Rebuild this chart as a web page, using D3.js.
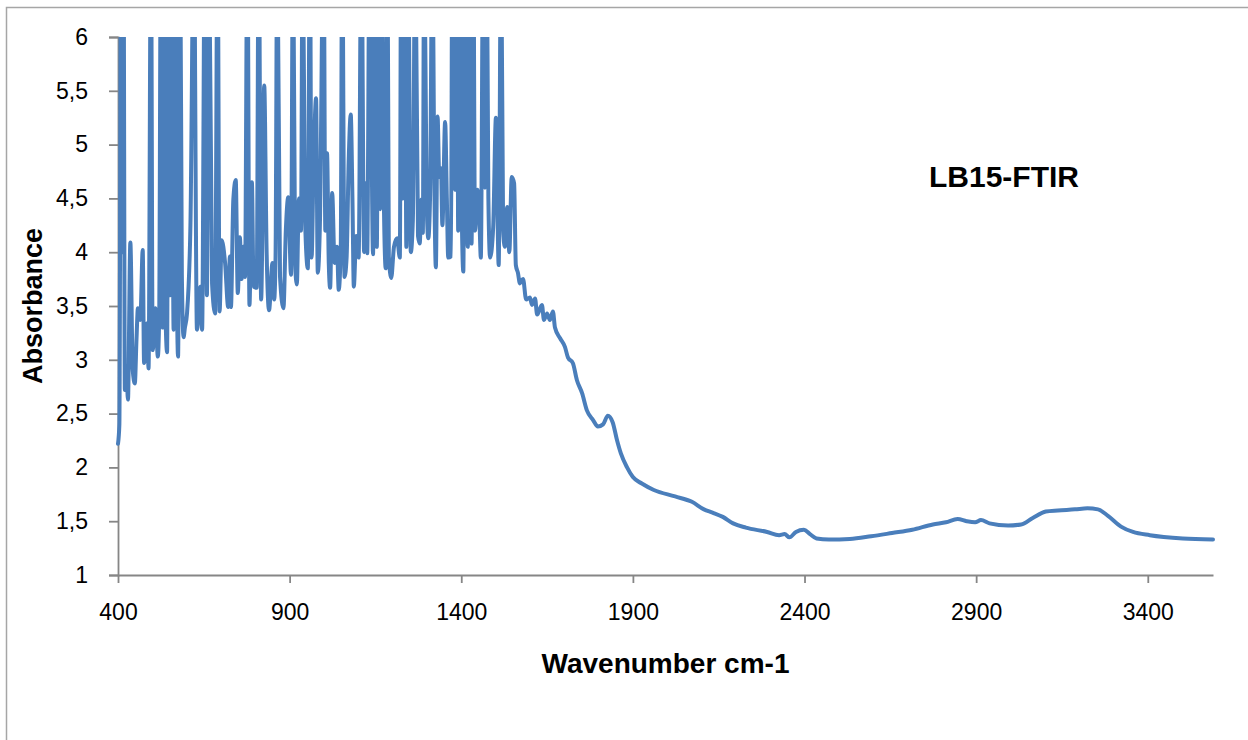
<!DOCTYPE html>
<html>
<head>
<meta charset="utf-8">
<script src="https://cdn.jsdelivr.net/npm/d3@7"></script>
<style>
  html, body { margin: 0; padding: 0; background: #ffffff; }
  svg { display: block; }
  text { font-family: "Liberation Sans", Arial, sans-serif; fill: #000; }
</style>
</head>
<body>
<svg id="chart" width="1248" height="740"></svg>
<script>
// FTIR spectrum of sample LB15 (values above 6 run off the top of the plot)
const wavenumber = [
  400, 404, 409, 413, 416, 420, 425, 429, 436, 443, 449, 454, 458, 465, 472, 476, 485, 489, 496, 501,
  509, 516, 520, 525, 530, 534, 538, 543, 547, 552, 556, 562, 568, 572, 575, 581, 586, 591, 595, 601,
  611, 621, 630, 640, 645, 653, 659, 665, 674, 683, 690, 696, 702, 712, 721, 726, 729, 736, 743, 749,
  755, 760, 765, 770, 777, 783, 790, 795, 804, 810, 817, 826, 833, 840, 850, 855, 859, 864, 872, 882,
  889, 896, 904, 910, 916, 921, 927, 933, 938, 945, 953, 959, 964, 969, 977, 982, 988, 999, 1004, 1009,
  1014, 1018, 1024, 1031, 1038, 1043, 1049, 1053, 1060, 1066, 1072, 1078, 1083, 1087, 1094, 1101, 1109, 1117, 1122, 1126,
  1133, 1143, 1148, 1154, 1159, 1164, 1169, 1174, 1180, 1185, 1189, 1196, 1204, 1213, 1221, 1225, 1230, 1236, 1240, 1245,
  1253, 1259, 1266, 1274, 1279, 1284, 1288, 1292, 1299, 1304, 1309, 1316, 1321, 1326, 1331, 1336, 1341, 1345, 1353, 1358,
  1362, 1370, 1374, 1382, 1388, 1391, 1396, 1401, 1406, 1411, 1419, 1424, 1430, 1435, 1440, 1447, 1453, 1457, 1464, 1469,
  1474, 1479, 1484, 1493, 1501, 1509, 1516, 1522, 1527, 1534, 1540, 1547, 1554, 1559, 1565, 1571, 1580, 1589, 1600, 1606,
  1615, 1621, 1635, 1641, 1650, 1658, 1667, 1673, 1688, 1702, 1711, 1725, 1737, 1752, 1766, 1784, 1798, 1813, 1827, 1841,
  1854, 1865, 1883, 1900, 1926, 1961, 2023, 2072, 2107, 2132, 2162, 2192, 2229, 2291, 2326, 2342, 2356, 2375, 2398, 2416,
  2435, 2471, 2532, 2594, 2655, 2714, 2774, 2812, 2846, 2872, 2897, 2914, 2939, 2993, 3031, 3065, 3103, 3138, 3188, 3224,
  3255, 3284, 3322, 3357, 3406, 3502, 3590
];
const absorbance = [
  2.22, 2.40, 7.00, 4.00, 7.00, 2.72, 2.85, 2.63, 4.09, 2.90, 2.78, 3.20, 3.48, 3.37, 4.02, 2.97, 3.34, 2.92, 7.00, 3.09,
  3.48, 3.03, 3.40, 7.00, 3.30, 7.00, 3.50, 3.07, 7.00, 3.60, 7.00, 3.28, 7.00, 3.50, 3.03, 7.00, 3.80, 3.21, 3.30, 3.43,
  4.25, 7.00, 3.28, 3.68, 3.28, 7.00, 3.60, 7.00, 3.71, 3.43, 7.00, 3.45, 4.11, 3.90, 3.49, 3.96, 3.49, 4.49, 4.67, 3.62,
  4.14, 3.75, 4.05, 3.77, 7.00, 3.51, 4.65, 3.68, 3.67, 7.00, 3.56, 5.55, 4.00, 3.46, 3.90, 3.56, 3.96, 7.00, 3.77, 3.48,
  4.21, 4.51, 3.79, 7.00, 3.90, 3.70, 4.50, 4.20, 7.00, 4.30, 3.85, 7.00, 3.95, 4.67, 5.43, 3.81, 4.23, 7.00, 4.20, 4.92,
  3.90, 3.67, 4.55, 3.90, 4.05, 3.65, 4.05, 7.00, 3.77, 3.95, 4.84, 5.28, 4.50, 3.68, 4.15, 3.95, 7.00, 4.00, 4.64, 3.99,
  7.00, 3.98, 7.00, 4.05, 7.00, 4.40, 7.00, 4.60, 3.85, 7.00, 3.96, 3.76, 4.05, 4.13, 3.95, 7.00, 4.50, 7.00, 4.05, 7.00,
  4.00, 4.30, 7.00, 4.15, 4.08, 4.49, 4.18, 7.00, 4.50, 4.13, 4.50, 7.00, 4.83, 3.86, 5.26, 4.70, 4.78, 4.25, 5.21, 4.50,
  3.95, 3.96, 7.00, 4.58, 7.00, 4.20, 7.00, 4.50, 3.82, 7.00, 4.05, 7.00, 4.08, 7.00, 4.20, 4.58, 4.30, 3.95, 7.00, 4.60,
  7.00, 4.50, 3.95, 4.23, 5.25, 3.88, 7.00, 4.20, 4.05, 4.42, 4.00, 4.70, 4.64, 3.88, 3.81, 3.71, 3.75, 3.56, 3.58, 3.51,
  3.57, 3.42, 3.51, 3.37, 3.43, 3.37, 3.45, 3.30, 3.20, 3.12, 3.02, 2.97, 2.81, 2.69, 2.53, 2.44, 2.38, 2.40, 2.48, 2.42,
  2.25, 2.13, 2.00, 1.91, 1.85, 1.79, 1.73, 1.68, 1.61, 1.58, 1.54, 1.48, 1.44, 1.40, 1.37, 1.38, 1.35, 1.40, 1.42, 1.38,
  1.34, 1.33, 1.335, 1.36, 1.39, 1.42, 1.47, 1.49, 1.52, 1.50, 1.49, 1.51, 1.48, 1.46, 1.47, 1.53, 1.59, 1.60, 1.61, 1.62,
  1.61, 1.55, 1.45, 1.40, 1.37, 1.34, 1.33
];
const xTicks = [400, 900, 1400, 1900, 2400, 2900, 3400];
const yTicks = [1, 1.5, 2, 2.5, 3, 3.5, 4, 4.5, 5, 5.5, 6];

const chartTitle = "LB15-FTIR";
const xTitle = "Wavenumber cm-1";
const yTitle = "Absorbance";

const svg = d3.select("#chart");
const plot = { left: 118, right: 1213, top: 37, bottom: 575 };

const x = d3.scaleLinear().domain([400, 3590]).range([plot.left, plot.right]);
const y = d3.scaleLinear().domain([1, 6]).range([plot.bottom, plot.top]);

// outer chart frame
svg.append("rect")
  .attr("x", 6.5).attr("y", 7.5)
  .attr("width", 1300).attr("height", 800)
  .attr("fill", "none")
  .attr("stroke", "#a6a6a6")
  .attr("stroke-width", 1.5);

// clip so the saturated bands stop at the top of the plot area
svg.append("clipPath").attr("id", "plotClip")
  .append("rect")
  .attr("x", plot.left - 6).attr("y", plot.top)
  .attr("width", plot.right - plot.left + 12)
  .attr("height", plot.bottom - plot.top + 20);

const commaFmt = v => String(v).replace(".", ",");
const axisColor = "#868686";
const tickFont = 23;

// y axis
const yAxis = svg.append("g")
  .attr("transform", `translate(${plot.left},0)`)
  .call(d3.axisLeft(y).tickValues(yTicks).tickSize(9).tickPadding(21).tickFormat(commaFmt));
yAxis.select(".domain").attr("stroke", axisColor).attr("stroke-width", 1.8);
yAxis.selectAll(".tick line").attr("stroke", axisColor).attr("stroke-width", 1.8);
yAxis.selectAll(".tick text")
  .attr("font-family", "Liberation Sans, Arial, sans-serif")
  .attr("font-size", tickFont).attr("fill", "#000");

// x axis
const xAxis = svg.append("g")
  .attr("transform", `translate(0,${plot.bottom})`)
  .call(d3.axisBottom(x).tickValues(xTicks).tickSize(8).tickSizeOuter(0).tickPadding(21).tickFormat(d3.format("d")));
xAxis.select(".domain").attr("stroke", axisColor).attr("stroke-width", 1.8);
xAxis.selectAll(".tick line").attr("stroke", axisColor).attr("stroke-width", 1.8);
xAxis.selectAll(".tick text")
  .attr("font-family", "Liberation Sans, Arial, sans-serif")
  .attr("font-size", tickFont).attr("fill", "#000");

// spectrum line
const points = wavenumber.map((w, i) => [w, absorbance[i]]);
const line = d3.line()
  .x(d => x(d[0]))
  .y(d => y(d[1]))
  .curve(d3.curveMonotoneX);

svg.append("g").attr("clip-path", "url(#plotClip)")
  .append("path")
  .datum(points)
  .attr("d", line)
  .attr("fill", "none")
  .attr("stroke", "#4a7ebb")
  .attr("stroke-width", 4)
  .attr("stroke-linejoin", "round")
  .attr("stroke-linecap", "round");

// titles
svg.append("text")
  .attr("x", (plot.left + plot.right) / 2).attr("y", 673)
  .attr("text-anchor", "middle")
  .attr("font-size", 28).attr("font-weight", "bold")
  .text(xTitle);

svg.append("text")
  .attr("transform", `translate(42,${(plot.top + plot.bottom) / 2}) rotate(-90)`)
  .attr("text-anchor", "middle")
  .attr("font-size", 27).attr("font-weight", "bold")
  .text(yTitle);

svg.append("text")
  .attr("x", 1004).attr("y", 187)
  .attr("text-anchor", "middle")
  .attr("font-size", 30).attr("font-weight", "bold")
  .text(chartTitle);
</script>
</body>
</html>
